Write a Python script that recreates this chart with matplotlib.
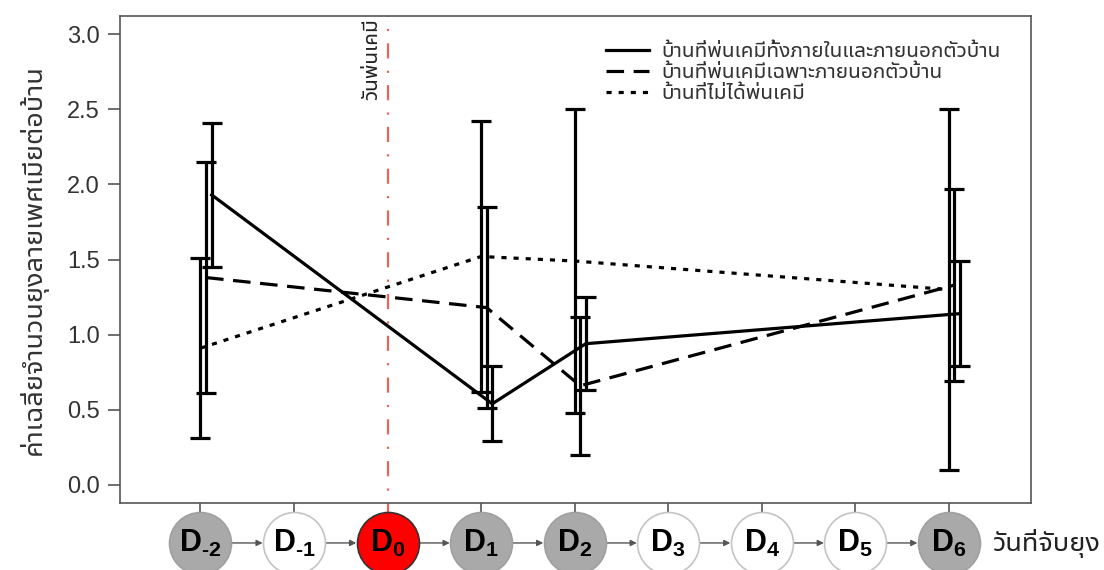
import matplotlib
matplotlib.use('Agg')
import matplotlib.pyplot as plt

plt.rcParams['font.family'] = ['Liberation Sans', 'Noto Sans Thai UI']
plt.rcParams['mathtext.fontset'] = 'custom'
plt.rcParams['mathtext.rm'] = 'Liberation Sans:bold'
plt.rcParams['mathtext.bf'] = 'Liberation Sans:bold'

THAI = ['Noto Sans Thai UI', 'Liberation Sans']

# วันเก็บยุง (D0 = วันพ่นเคมี)
days = [-2, 1, 2, 6]

# ค่าเฉลี่ย +/- ช่วงความคลาดเคลื่อน
in_out_mean = [1.93, 0.54, 0.94, 1.14]
in_out_err = [0.48, 0.25, 0.31, 0.35]
out_mean = [1.38, 1.18, 0.66, 1.33]
out_err = [0.77, 0.67, 0.46, 0.64]
none_mean = [0.91, 1.52, 1.49, 1.30]
none_err = [0.60, 0.90, 1.01, 1.20]

labels = ['บ้านที่พ่นเคมีทั้งภายในและภายนอกตัวบ้าน',
          'บ้านที่พ่นเคมีเฉพาะภายนอกตัวบ้าน',
          'บ้านที่ไม่ได้พ่นเคมี']

# วงกลมใต้แกน x
all_days = [-2, -1, 0, 1, 2, 3, 4, 5, 6]
day_names = ['-2', '-1', '0', '1', '2', '3', '4', '5', '6']
day_kind = ['catch', 'none', 'spray', 'catch', 'catch', 'none', 'none', 'none', 'catch']

fig = plt.figure(figsize=(11.04, 5.7), dpi=100)
ax = fig.add_axes([0.1087, 0.1175, 0.8252, 0.8544])

series = [
    (in_out_mean, in_out_err, '-', 0.12),
    (out_mean, out_err, (0, (5.5, 3.0)), 0.06),
    (none_mean, none_err, (0, (1.6, 2.2)), 0.0),
]
for (m, e, ls, off), lab in zip(series, labels):
    xs = [d + off for d in days]
    ax.errorbar(xs, m, yerr=e, fmt='none', ecolor='black', elinewidth=2.3,
                capsize=7, capthick=2.3, zorder=3)
    ax.plot(xs, m, color='black', lw=2.3, linestyle=ls, label=lab, zorder=4)

# เส้นวันพ่นเคมี
ax.axvline(0, ymin=-0.03, ymax=1, color='#E8655A', lw=1.6,
           linestyle=(0, (6.8, 5.5, 1, 5.5)), clip_on=False, zorder=2)
ax.text(-0.17, 0.995, 'วันพ่นเคมี', transform=ax.get_xaxis_transform(),
        rotation=90, ha='center', va='top', fontsize=15, color='#222222',
        family=THAI)

ax.set_xlim(-2.86, 6.88)
ax.set_ylim(-0.12, 3.12)
ax.set_yticks([0, 0.5, 1.0, 1.5, 2.0, 2.5, 3.0])
ax.set_yticklabels(['0.0', '0.5', '1.0', '1.5', '2.0', '2.5', '3.0'])
ax.set_xticks(all_days)
ax.set_xticklabels([])
ax.tick_params(axis='both', direction='out', length=8.6, width=1.2,
               color='#555555', labelsize=17, labelcolor='#333333', pad=6)
for s in ax.spines.values():
    s.set_color('#555555')
    s.set_linewidth(1.2)

ax.set_ylabel('ค่าเฉลี่ยจำนวนยุงลายเพศเมียต่อบ้าน', fontsize=19.5,
              color='#333333', family=THAI)
ax.yaxis.set_label_coords(-0.079, 0.5)

leg = ax.legend(loc='upper left', bbox_to_anchor=(0.524, 0.964), frameon=False,
                prop={'family': THAI, 'size': 15}, handlelength=2.07,
                handletextpad=0.58, labelspacing=0.1, borderaxespad=0)
for t in leg.get_texts():
    t.set_color('#333333')

# แถววันเก็บยุง
colors = {'catch': ('#A9A9A9', '#A0A0A0'),
          'none': ('#FFFFFF', '#C4C4C4'),
          'spray': ('#FF0000', '#333333')}
xt = ax.get_xaxis_transform()
cy = -0.082
for d, name, kind in zip(all_days, day_names, day_kind):
    fc, ec = colors[kind]
    ax.scatter([d], [cy], s=1990, facecolor=fc, edgecolor=ec, linewidth=1.2,
               transform=xt, clip_on=False, zorder=5)
    sub = name.replace('-', r'\text{-}')
    ax.text(d, cy, r'$\mathbf{D}_{%s}$' % sub, transform=xt, ha='center',
            va='center', fontsize=22, color='black', zorder=6)
for d in all_days[:-1]:
    ax.annotate('', xy=(d + 1 - 0.335, cy), xytext=(d + 0.335, cy),
                xycoords=xt, textcoords=xt, annotation_clip=False,
                arrowprops=dict(arrowstyle='-|>', color='#555555', lw=1,
                                mutation_scale=9, shrinkA=0, shrinkB=0))

fig.text(993 / 1104, (570 - 543) / 570, 'วันที่จับยุง', ha='left', va='center',
         fontsize=19.5, color='#222222', family=THAI)

fig.savefig('out.png', dpi=100)
